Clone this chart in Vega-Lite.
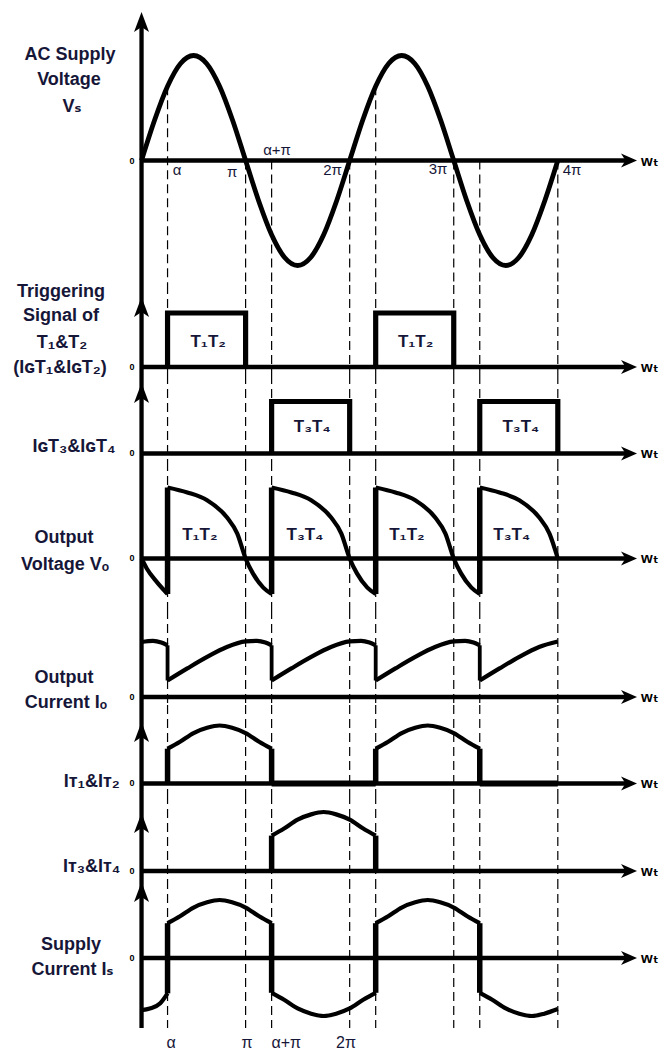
{
"$schema":"https://vega.github.io/schema/vega-lite/v6.json",
"padding":0,
"spacing":0,
"bounds":"flush",
"config":{"view":{"stroke":null},"axis":{"disable":true},"text":{"font":"Liberation Sans, DejaVu Sans","fill":"#161638"},"concat":{"spacing":0}},
"datasets":{"vlines":[{"x":0.25},{"x":1},{"x":1.25},{"x":2},{"x":2.25},{"x":3},{"x":3.25},{"x":4}]},
"vconcat":[
{"width":665,"height":285,"data":{"values":[{}]},"layer":[
{"data":{"values":[{"x":0.25,"y":0.707},{"x":1,"y":0},{"x":1.25,"y":0},{"x":2,"y":0},{"x":2.25,"y":0.707},{"x":3,"y":0},{"x":3.25,"y":0},{"x":4,"y":0}]},"mark":{"type":"rule","strokeDash":[9,5],"strokeWidth":1.2,"color":"#000"},"encoding":{"x":{"field":"x","type":"quantitative","scale":{"domain":[-1.36,5.03],"nice":false,"zero":false}},"y":{"field":"y","type":"quantitative","scale":{"domain":[-1.1857,1.5286],"nice":false,"zero":false}},"y2":{"datum":-1.1857}}},
{"data":{"values":[{"x":0,"y":0},{"x":0.125,"y":0.383},{"x":0.25,"y":0.707},{"x":0.375,"y":0.924},{"x":0.5,"y":1},{"x":0.625,"y":0.924},{"x":0.75,"y":0.707},{"x":0.875,"y":0.383},{"x":1,"y":0},{"x":1.125,"y":-0.383},{"x":1.25,"y":-0.707},{"x":1.375,"y":-0.924},{"x":1.5,"y":-1},{"x":1.625,"y":-0.924},{"x":1.75,"y":-0.707},{"x":1.875,"y":-0.383},{"x":2,"y":0},{"x":2.125,"y":0.383},{"x":2.25,"y":0.707},{"x":2.375,"y":0.924},{"x":2.5,"y":1},{"x":2.625,"y":0.924},{"x":2.75,"y":0.707},{"x":2.875,"y":0.383},{"x":3,"y":0},{"x":3.125,"y":-0.383},{"x":3.25,"y":-0.707},{"x":3.375,"y":-0.924},{"x":3.5,"y":-1},{"x":3.625,"y":-0.924},{"x":3.75,"y":-0.707},{"x":3.875,"y":-0.383},{"x":4,"y":0}]},"mark":{"type":"line","interpolate":"monotone","strokeWidth":4.8,"color":"#000"},"encoding":{"x":{"field":"x","type":"quantitative","scale":{"domain":[-1.36,5.03],"nice":false,"zero":false}},"y":{"field":"y","type":"quantitative","scale":{"domain":[-1.1857,1.5286],"nice":false,"zero":false}}}},
{"mark":{"type":"rule","strokeWidth":4.3,"color":"#000"},"encoding":{"x":{"datum":0,"scale":{"domain":[-1.36,5.03],"nice":false,"zero":false}},"y":{"datum":1.338,"scale":{"domain":[-1.1857,1.5286],"nice":false,"zero":false}},"y2":{"datum":-1.1857}}},
{"mark":{"type":"point","shape":"M0,0 L0.75,2 L0,1.5 L-0.75,2 Z","size":400,"filled":true,"fill":"#000","strokeWidth":0,"opacity":1},"encoding":{"x":{"datum":0,"scale":{"domain":[-1.36,5.03],"nice":false,"zero":false}},"y":{"datum":1.414,"scale":{"domain":[-1.1857,1.5286],"nice":false,"zero":false}}}},
{"mark":{"type":"rule","strokeWidth":4.3,"color":"#000"},"encoding":{"x":{"datum":0,"scale":{"domain":[-1.36,5.03],"nice":false,"zero":false}},"x2":{"datum":4.66},"y":{"datum":0,"scale":{"domain":[-1.1857,1.5286],"nice":false,"zero":false}}}},
{"mark":{"type":"point","shape":"M0,0 L-1.6,-0.7 L-1.15,0 L-1.6,0.7 Z","size":400,"filled":true,"fill":"#000","strokeWidth":0,"opacity":1},"encoding":{"x":{"datum":4.761,"scale":{"domain":[-1.36,5.03],"nice":false,"zero":false}},"y":{"datum":0,"scale":{"domain":[-1.1857,1.5286],"nice":false,"zero":false}}}},
{"mark":{"type":"text","text":"0","fontSize":9,"fontWeight":"bold","fill":"#000","align":"center","baseline":"middle"},"encoding":{"x":{"datum":-0.091,"scale":{"domain":[-1.36,5.03],"nice":false,"zero":false}},"y":{"datum":0,"scale":{"domain":[-1.1857,1.5286],"nice":false,"zero":false}}}},
{"mark":{"type":"text","text":"wₜ","fontSize":15,"fontWeight":"bold","fill":"#000","align":"left","baseline":"middle"},"encoding":{"x":{"datum":4.8,"scale":{"domain":[-1.36,5.03],"nice":false,"zero":false}},"y":{"datum":0,"scale":{"domain":[-1.1857,1.5286],"nice":false,"zero":false}}}},
{"data":{"values":[{"x":0.341,"y":-0.09,"t":"α"},{"x":0.87,"y":-0.114,"t":"π"},{"x":1.302,"y":0.1,"t":"α+π"},{"x":1.835,"y":-0.09,"t":"2π"},{"x":2.849,"y":-0.08,"t":"3π"},{"x":4.137,"y":-0.09,"t":"4π"}]},"mark":{"type":"text","fontSize":15,"align":"center","baseline":"middle"},"encoding":{"x":{"field":"x","type":"quantitative","scale":{"domain":[-1.36,5.03],"nice":false,"zero":false}},"y":{"field":"y","type":"quantitative","scale":{"domain":[-1.1857,1.5286],"nice":false,"zero":false}},"text":{"field":"t"}}},
{"data":{"values":[{"x":-0.687,"y":1.005,"t":"AC Supply"},{"x":-0.697,"y":0.767,"t":"Voltage"},{"x":-0.668,"y":0.51,"t":"Vₛ"}]},"mark":{"type":"text","fontSize":18,"fontWeight":"bold","align":"center","baseline":"middle"},"encoding":{"x":{"field":"x","type":"quantitative","scale":{"domain":[-1.36,5.03],"nice":false,"zero":false}},"y":{"field":"y","type":"quantitative","scale":{"domain":[-1.1857,1.5286],"nice":false,"zero":false}},"text":{"field":"t"}}}
]},
{"width":665,"height":90,"data":{"values":[{}]},"layer":[
{"data":{"name":"vlines"},"mark":{"type":"rule","strokeDash":[9,5],"strokeWidth":1.2,"color":"#000"},"encoding":{"x":{"field":"x","type":"quantitative","scale":{"domain":[-1.36,5.03],"nice":false,"zero":false}}}},
{"mark":{"type":"rule","strokeWidth":4.3,"color":"#000"},"encoding":{"x":{"datum":0,"scale":{"domain":[-1.36,5.03],"nice":false,"zero":false}}}},
{"data":{"values":[{"s":1,"i":0,"x":0.25,"y":0},{"s":1,"i":1,"x":0.25,"y":1},{"s":1,"i":2,"x":1,"y":1},{"s":1,"i":3,"x":1,"y":0},{"s":2,"i":0,"x":2.25,"y":0},{"s":2,"i":1,"x":2.25,"y":1},{"s":2,"i":2,"x":3,"y":1},{"s":2,"i":3,"x":3,"y":0}]},"mark":{"type":"line","strokeWidth":5.2,"strokeJoin":"miter","color":"#000"},"encoding":{"x":{"field":"x","type":"quantitative","scale":{"domain":[-1.36,5.03],"nice":false,"zero":false}},"y":{"field":"y","type":"quantitative","scale":{"domain":[-0.148,1.5185],"nice":false,"zero":false}},"detail":{"field":"s"},"order":{"field":"i"}}},
{"mark":{"type":"point","shape":"M0,0 L0.75,2 L0,1.5 L-0.75,2 Z","size":400,"filled":true,"fill":"#000","strokeWidth":0,"opacity":1},"encoding":{"x":{"datum":0,"scale":{"domain":[-1.36,5.03],"nice":false,"zero":false}},"y":{"datum":1.296,"scale":{"domain":[-0.148,1.5185],"nice":false,"zero":false}}}},
{"mark":{"type":"rule","strokeWidth":4.3,"color":"#000"},"encoding":{"x":{"datum":0,"scale":{"domain":[-1.36,5.03],"nice":false,"zero":false}},"x2":{"datum":4.66},"y":{"datum":0,"scale":{"domain":[-0.148,1.5185],"nice":false,"zero":false}}}},
{"mark":{"type":"point","shape":"M0,0 L-1.6,-0.7 L-1.15,0 L-1.6,0.7 Z","size":400,"filled":true,"fill":"#000","strokeWidth":0,"opacity":1},"encoding":{"x":{"datum":4.761,"scale":{"domain":[-1.36,5.03],"nice":false,"zero":false}},"y":{"datum":0,"scale":{"domain":[-0.148,1.5185],"nice":false,"zero":false}}}},
{"mark":{"type":"text","text":"0","fontSize":9,"fontWeight":"bold","fill":"#000","align":"center","baseline":"middle"},"encoding":{"x":{"datum":-0.091,"scale":{"domain":[-1.36,5.03],"nice":false,"zero":false}},"y":{"datum":0,"scale":{"domain":[-0.148,1.5185],"nice":false,"zero":false}}}},
{"mark":{"type":"text","text":"wₜ","fontSize":15,"fontWeight":"bold","fill":"#000","align":"left","baseline":"middle"},"encoding":{"x":{"datum":4.8,"scale":{"domain":[-1.36,5.03],"nice":false,"zero":false}},"y":{"datum":0,"scale":{"domain":[-0.148,1.5185],"nice":false,"zero":false}}}},
{"data":{"values":[{"x":0.64,"y":0.47,"t":"T₁T₂"},{"x":2.633,"y":0.47,"t":"T₁T₂"}]},"mark":{"type":"text","fontSize":17,"fontWeight":"bold","align":"center","baseline":"middle"},"encoding":{"x":{"field":"x","type":"quantitative","scale":{"domain":[-1.36,5.03],"nice":false,"zero":false}},"y":{"field":"y","type":"quantitative","scale":{"domain":[-0.148,1.5185],"nice":false,"zero":false}},"text":{"field":"t"}}},
{"data":{"values":[{"x":-0.774,"y":1.389,"t":"Triggering"},{"x":-0.774,"y":0.944,"t":"Signal of"},{"x":-0.764,"y":0.444,"t":"T₁&T₂"},{"x":-0.783,"y":-0.0185,"t":"(IɢT₁&IɢT₂)"}]},"mark":{"type":"text","fontSize":18,"fontWeight":"bold","align":"center","baseline":"middle"},"encoding":{"x":{"field":"x","type":"quantitative","scale":{"domain":[-1.36,5.03],"nice":false,"zero":false}},"y":{"field":"y","type":"quantitative","scale":{"domain":[-0.148,1.5185],"nice":false,"zero":false}},"text":{"field":"t"}}}
]},
{"width":665,"height":87,"data":{"values":[{}]},"layer":[
{"data":{"name":"vlines"},"mark":{"type":"rule","strokeDash":[9,5],"strokeWidth":1.2,"color":"#000"},"encoding":{"x":{"field":"x","type":"quantitative","scale":{"domain":[-1.36,5.03],"nice":false,"zero":false}}}},
{"mark":{"type":"rule","strokeWidth":4.3,"color":"#000"},"encoding":{"x":{"datum":0,"scale":{"domain":[-1.36,5.03],"nice":false,"zero":false}}}},
{"data":{"values":[{"s":1,"i":0,"x":1.25,"y":0},{"s":1,"i":1,"x":1.25,"y":1},{"s":1,"i":2,"x":2,"y":1},{"s":1,"i":3,"x":2,"y":0},{"s":2,"i":0,"x":3.25,"y":0},{"s":2,"i":1,"x":3.25,"y":1},{"s":2,"i":2,"x":4,"y":1},{"s":2,"i":3,"x":4,"y":0}]},"mark":{"type":"line","strokeWidth":5.2,"strokeJoin":"miter","color":"#000"},"encoding":{"x":{"field":"x","type":"quantitative","scale":{"domain":[-1.36,5.03],"nice":false,"zero":false}},"y":{"field":"y","type":"quantitative","scale":{"domain":[-0.1635,1.5096],"nice":false,"zero":false}},"detail":{"field":"s"},"order":{"field":"i"}}},
{"mark":{"type":"point","shape":"M0,0 L0.75,2 L0,1.5 L-0.75,2 Z","size":400,"filled":true,"fill":"#000","strokeWidth":0,"opacity":1},"encoding":{"x":{"datum":0,"scale":{"domain":[-1.36,5.03],"nice":false,"zero":false}},"y":{"datum":1.356,"scale":{"domain":[-0.1635,1.5096],"nice":false,"zero":false}}}},
{"mark":{"type":"rule","strokeWidth":4.3,"color":"#000"},"encoding":{"x":{"datum":0,"scale":{"domain":[-1.36,5.03],"nice":false,"zero":false}},"x2":{"datum":4.66},"y":{"datum":0,"scale":{"domain":[-0.1635,1.5096],"nice":false,"zero":false}}}},
{"mark":{"type":"point","shape":"M0,0 L-1.6,-0.7 L-1.15,0 L-1.6,0.7 Z","size":400,"filled":true,"fill":"#000","strokeWidth":0,"opacity":1},"encoding":{"x":{"datum":4.761,"scale":{"domain":[-1.36,5.03],"nice":false,"zero":false}},"y":{"datum":0,"scale":{"domain":[-0.1635,1.5096],"nice":false,"zero":false}}}},
{"mark":{"type":"text","text":"0","fontSize":9,"fontWeight":"bold","fill":"#000","align":"center","baseline":"middle"},"encoding":{"x":{"datum":-0.091,"scale":{"domain":[-1.36,5.03],"nice":false,"zero":false}},"y":{"datum":0,"scale":{"domain":[-0.1635,1.5096],"nice":false,"zero":false}}}},
{"mark":{"type":"text","text":"wₜ","fontSize":15,"fontWeight":"bold","fill":"#000","align":"left","baseline":"middle"},"encoding":{"x":{"datum":4.8,"scale":{"domain":[-1.36,5.03],"nice":false,"zero":false}},"y":{"datum":0,"scale":{"domain":[-0.1635,1.5096],"nice":false,"zero":false}}}},
{"data":{"values":[{"x":1.64,"y":0.515,"t":"T₃T₄"},{"x":3.644,"y":0.515,"t":"T₃T₄"}]},"mark":{"type":"text","fontSize":17,"fontWeight":"bold","align":"center","baseline":"middle"},"encoding":{"x":{"field":"x","type":"quantitative","scale":{"domain":[-1.36,5.03],"nice":false,"zero":false}},"y":{"field":"y","type":"quantitative","scale":{"domain":[-0.1635,1.5096],"nice":false,"zero":false}},"text":{"field":"t"}}},
{"data":{"values":[{"x":-0.649,"y":0.13,"t":"IɢT₃&IɢT₄"}]},"mark":{"type":"text","fontSize":18,"fontWeight":"bold","align":"center","baseline":"middle"},"encoding":{"x":{"field":"x","type":"quantitative","scale":{"domain":[-1.36,5.03],"nice":false,"zero":false}},"y":{"field":"y","type":"quantitative","scale":{"domain":[-0.1635,1.5096],"nice":false,"zero":false}},"text":{"field":"t"}}}
]},
{"width":665,"height":148,"data":{"values":[{}]},"layer":[
{"data":{"name":"vlines"},"mark":{"type":"rule","strokeDash":[9,5],"strokeWidth":1.2,"color":"#000"},"encoding":{"x":{"field":"x","type":"quantitative","scale":{"domain":[-1.36,5.03],"nice":false,"zero":false}}}},
{"mark":{"type":"rule","strokeWidth":4.3,"color":"#000"},"encoding":{"x":{"datum":0,"scale":{"domain":[-1.36,5.03],"nice":false,"zero":false}}}},
{"mark":{"type":"rule","strokeWidth":4.3,"color":"#000"},"encoding":{"x":{"datum":0,"scale":{"domain":[-1.36,5.03],"nice":false,"zero":false}},"x2":{"datum":4.66},"y":{"datum":0,"scale":{"domain":[-0.7254,1.3592],"nice":false,"zero":false}}}},
{"data":{"values":[{"s":0,"x":0,"y":0},{"s":0,"x":0.05,"y":-0.14},{"s":0,"x":0.146,"y":-0.33},{"s":0,"x":0.25,"y":-0.5},
{"s":1,"x":0.25,"y":1},{"s":1,"x":0.44,"y":0.93},{"s":1,"x":0.63,"y":0.82},{"s":1,"x":0.82,"y":0.58},{"s":1,"x":0.92,"y":0.35},{"s":1,"x":1,"y":0},{"s":1,"x":1.07,"y":-0.21},{"s":1,"x":1.17,"y":-0.41},{"s":1,"x":1.25,"y":-0.5},
{"s":2,"x":1.25,"y":1},{"s":2,"x":1.44,"y":0.93},{"s":2,"x":1.63,"y":0.82},{"s":2,"x":1.82,"y":0.58},{"s":2,"x":1.92,"y":0.35},{"s":2,"x":2,"y":0},{"s":2,"x":2.07,"y":-0.21},{"s":2,"x":2.17,"y":-0.41},{"s":2,"x":2.25,"y":-0.5},
{"s":3,"x":2.25,"y":1},{"s":3,"x":2.44,"y":0.93},{"s":3,"x":2.63,"y":0.82},{"s":3,"x":2.82,"y":0.58},{"s":3,"x":2.92,"y":0.35},{"s":3,"x":3,"y":0},{"s":3,"x":3.07,"y":-0.21},{"s":3,"x":3.17,"y":-0.41},{"s":3,"x":3.25,"y":-0.5},
{"s":4,"x":3.25,"y":1},{"s":4,"x":3.44,"y":0.93},{"s":4,"x":3.63,"y":0.82},{"s":4,"x":3.82,"y":0.58},{"s":4,"x":3.92,"y":0.35},{"s":4,"x":4,"y":0}]},"mark":{"type":"line","interpolate":"monotone","strokeWidth":4.2,"color":"#000"},"encoding":{"x":{"field":"x","type":"quantitative","scale":{"domain":[-1.36,5.03],"nice":false,"zero":false}},"y":{"field":"y","type":"quantitative","scale":{"domain":[-0.7254,1.3592],"nice":false,"zero":false}},"detail":{"field":"s"}}},
{"data":{"values":[{"x":0.25,"y":-0.5,"y2":1},{"x":1.25,"y":-0.5,"y2":1},{"x":2.25,"y":-0.5,"y2":1},{"x":3.25,"y":-0.5,"y2":1}]},"mark":{"type":"rule","strokeWidth":5.5,"color":"#000"},"encoding":{"x":{"field":"x","type":"quantitative","scale":{"domain":[-1.36,5.03],"nice":false,"zero":false}},"y":{"field":"y","type":"quantitative","scale":{"domain":[-0.7254,1.3592],"nice":false,"zero":false}},"y2":{"field":"y2"}}},
{"mark":{"type":"point","shape":"M0,0 L-1.6,-0.7 L-1.15,0 L-1.6,0.7 Z","size":400,"filled":true,"fill":"#000","strokeWidth":0,"opacity":1},"encoding":{"x":{"datum":4.761,"scale":{"domain":[-1.36,5.03],"nice":false,"zero":false}},"y":{"datum":0,"scale":{"domain":[-0.7254,1.3592],"nice":false,"zero":false}}}},
{"mark":{"type":"text","text":"0","fontSize":9,"fontWeight":"bold","fill":"#000","align":"center","baseline":"middle"},"encoding":{"x":{"datum":-0.091,"scale":{"domain":[-1.36,5.03],"nice":false,"zero":false}},"y":{"datum":0,"scale":{"domain":[-0.7254,1.3592],"nice":false,"zero":false}}}},
{"mark":{"type":"text","text":"wₜ","fontSize":15,"fontWeight":"bold","fill":"#000","align":"left","baseline":"middle"},"encoding":{"x":{"datum":4.8,"scale":{"domain":[-1.36,5.03],"nice":false,"zero":false}},"y":{"datum":0,"scale":{"domain":[-0.7254,1.3592],"nice":false,"zero":false}}}},
{"data":{"values":[{"x":0.56,"y":0.33,"t":"T₁T₂"},{"x":1.57,"y":0.33,"t":"T₃T₄"},{"x":2.55,"y":0.33,"t":"T₁T₂"},{"x":3.557,"y":0.33,"t":"T₃T₄"}]},"mark":{"type":"text","fontSize":17,"fontWeight":"bold","align":"center","baseline":"middle"},"encoding":{"x":{"field":"x","type":"quantitative","scale":{"domain":[-1.36,5.03],"nice":false,"zero":false}},"y":{"field":"y","type":"quantitative","scale":{"domain":[-0.7254,1.3592],"nice":false,"zero":false}},"text":{"field":"t"}}},
{"data":{"values":[{"x":-0.745,"y":0.284,"t":"Output"},{"x":-0.735,"y":-0.092,"t":"Voltage Vₒ"}]},"mark":{"type":"text","fontSize":18,"fontWeight":"bold","align":"center","baseline":"middle"},"encoding":{"x":{"field":"x","type":"quantitative","scale":{"domain":[-1.36,5.03],"nice":false,"zero":false}},"y":{"field":"y","type":"quantitative","scale":{"domain":[-0.7254,1.3592],"nice":false,"zero":false}},"text":{"field":"t"}}}
]},
{"width":665,"height":95,"data":{"values":[{}]},"layer":[
{"data":{"name":"vlines"},"mark":{"type":"rule","strokeDash":[9,5],"strokeWidth":1.2,"color":"#000"},"encoding":{"x":{"field":"x","type":"quantitative","scale":{"domain":[-1.36,5.03],"nice":false,"zero":false}}}},
{"mark":{"type":"rule","strokeWidth":4.3,"color":"#000"},"encoding":{"x":{"datum":0,"scale":{"domain":[-1.36,5.03],"nice":false,"zero":false}}}},
{"mark":{"type":"rule","strokeWidth":4.3,"color":"#000"},"encoding":{"x":{"datum":0,"scale":{"domain":[-1.36,5.03],"nice":false,"zero":false}},"x2":{"datum":4.66},"y":{"datum":0,"scale":{"domain":[-0.1455,1.5818],"nice":false,"zero":false}}}},
{"data":{"values":[{"s":0,"x":0,"y":1},{"s":0,"x":0.11,"y":1.02},{"s":0,"x":0.19,"y":0.99},{"s":0,"x":0.25,"y":0.94},
{"s":1,"x":0.25,"y":0.3},{"s":1,"x":0.44,"y":0.52},{"s":1,"x":0.63,"y":0.73},{"s":1,"x":0.82,"y":0.91},{"s":1,"x":1,"y":1.01},{"s":1,"x":1.11,"y":1.02},{"s":1,"x":1.19,"y":0.99},{"s":1,"x":1.25,"y":0.94},
{"s":2,"x":1.25,"y":0.3},{"s":2,"x":1.44,"y":0.52},{"s":2,"x":1.63,"y":0.73},{"s":2,"x":1.82,"y":0.91},{"s":2,"x":2,"y":1.01},{"s":2,"x":2.11,"y":1.02},{"s":2,"x":2.19,"y":0.99},{"s":2,"x":2.25,"y":0.94},
{"s":3,"x":2.25,"y":0.3},{"s":3,"x":2.44,"y":0.52},{"s":3,"x":2.63,"y":0.73},{"s":3,"x":2.82,"y":0.91},{"s":3,"x":3,"y":1.01},{"s":3,"x":3.11,"y":1.02},{"s":3,"x":3.19,"y":0.99},{"s":3,"x":3.25,"y":0.94},
{"s":4,"x":3.25,"y":0.3},{"s":4,"x":3.44,"y":0.52},{"s":4,"x":3.63,"y":0.73},{"s":4,"x":3.82,"y":0.91},{"s":4,"x":4,"y":1.01}]},"mark":{"type":"line","interpolate":"monotone","strokeWidth":4.2,"color":"#000"},"encoding":{"x":{"field":"x","type":"quantitative","scale":{"domain":[-1.36,5.03],"nice":false,"zero":false}},"y":{"field":"y","type":"quantitative","scale":{"domain":[-0.1455,1.5818],"nice":false,"zero":false}},"detail":{"field":"s"}}},
{"data":{"values":[{"x":0.25,"y":0.3,"y2":0.94},{"x":1.25,"y":0.3,"y2":0.94},{"x":2.25,"y":0.3,"y2":0.94},{"x":3.25,"y":0.3,"y2":0.94}]},"mark":{"type":"rule","strokeWidth":3.8,"color":"#000"},"encoding":{"x":{"field":"x","type":"quantitative","scale":{"domain":[-1.36,5.03],"nice":false,"zero":false}},"y":{"field":"y","type":"quantitative","scale":{"domain":[-0.1455,1.5818],"nice":false,"zero":false}},"y2":{"field":"y2"}}},
{"mark":{"type":"point","shape":"M0,0 L-1.6,-0.7 L-1.15,0 L-1.6,0.7 Z","size":400,"filled":true,"fill":"#000","strokeWidth":0,"opacity":1},"encoding":{"x":{"datum":4.761,"scale":{"domain":[-1.36,5.03],"nice":false,"zero":false}},"y":{"datum":0,"scale":{"domain":[-0.1455,1.5818],"nice":false,"zero":false}}}},
{"mark":{"type":"text","text":"0","fontSize":9,"fontWeight":"bold","fill":"#000","align":"center","baseline":"middle"},"encoding":{"x":{"datum":-0.091,"scale":{"domain":[-1.36,5.03],"nice":false,"zero":false}},"y":{"datum":0,"scale":{"domain":[-0.1455,1.5818],"nice":false,"zero":false}}}},
{"mark":{"type":"text","text":"wₜ","fontSize":15,"fontWeight":"bold","fill":"#000","align":"left","baseline":"middle"},"encoding":{"x":{"datum":4.8,"scale":{"domain":[-1.36,5.03],"nice":false,"zero":false}},"y":{"datum":0,"scale":{"domain":[-0.1455,1.5818],"nice":false,"zero":false}}}},
{"data":{"values":[{"x":-0.745,"y":0.34,"t":"Output"},{"x":-0.726,"y":-0.115,"t":"Current Iₒ"}]},"mark":{"type":"text","fontSize":18,"fontWeight":"bold","align":"center","baseline":"middle"},"encoding":{"x":{"field":"x","type":"quantitative","scale":{"domain":[-1.36,5.03],"nice":false,"zero":false}},"y":{"field":"y","type":"quantitative","scale":{"domain":[-0.1455,1.5818],"nice":false,"zero":false}},"text":{"field":"t"}}}
]},
{"width":665,"height":90,"data":{"values":[{}]},"layer":[
{"data":{"name":"vlines"},"mark":{"type":"rule","strokeDash":[9,5],"strokeWidth":1.2,"color":"#000"},"encoding":{"x":{"field":"x","type":"quantitative","scale":{"domain":[-1.36,5.03],"nice":false,"zero":false}}}},
{"mark":{"type":"rule","strokeWidth":4.3,"color":"#000"},"encoding":{"x":{"datum":0,"scale":{"domain":[-1.36,5.03],"nice":false,"zero":false}}}},
{"mark":{"type":"rule","strokeWidth":4.3,"color":"#000"},"encoding":{"x":{"datum":0,"scale":{"domain":[-1.36,5.03],"nice":false,"zero":false}},"x2":{"datum":4.66},"y":{"datum":0,"scale":{"domain":[-0.1983,1.3534],"nice":false,"zero":false}}}},
{"data":{"values":[{"x":1.25,"x2":2.25,"y":0},{"x":3.25,"x2":4,"y":0}]},"mark":{"type":"rule","strokeWidth":6,"color":"#000"},"encoding":{"x":{"field":"x","type":"quantitative","scale":{"domain":[-1.36,5.03],"nice":false,"zero":false}},"x2":{"field":"x2"},"y":{"field":"y","type":"quantitative","scale":{"domain":[-0.1983,1.3534],"nice":false,"zero":false}}}},
{"data":{"values":[{"s":1,"x":0.25,"y":0.6},{"s":1,"x":0.37,"y":0.72},{"s":1,"x":0.5,"y":0.87},{"s":1,"x":0.63,"y":0.96},{"s":1,"x":0.75,"y":1},{"s":1,"x":0.87,"y":0.96},{"s":1,"x":1,"y":0.87},{"s":1,"x":1.13,"y":0.72},{"s":1,"x":1.25,"y":0.6},
{"s":2,"x":2.25,"y":0.6},{"s":2,"x":2.37,"y":0.72},{"s":2,"x":2.5,"y":0.87},{"s":2,"x":2.63,"y":0.96},{"s":2,"x":2.75,"y":1},{"s":2,"x":2.87,"y":0.96},{"s":2,"x":3,"y":0.87},{"s":2,"x":3.13,"y":0.72},{"s":2,"x":3.25,"y":0.6}]},"mark":{"type":"line","interpolate":"monotone","strokeWidth":4.2,"color":"#000"},"encoding":{"x":{"field":"x","type":"quantitative","scale":{"domain":[-1.36,5.03],"nice":false,"zero":false}},"y":{"field":"y","type":"quantitative","scale":{"domain":[-0.1983,1.3534],"nice":false,"zero":false}},"detail":{"field":"s"}}},
{"data":{"values":[{"x":0.25,"y":0,"y2":0.6},{"x":1.25,"y":0,"y2":0.6},{"x":2.25,"y":0,"y2":0.6},{"x":3.25,"y":0,"y2":0.6}]},"mark":{"type":"rule","strokeWidth":5.5,"color":"#000"},"encoding":{"x":{"field":"x","type":"quantitative","scale":{"domain":[-1.36,5.03],"nice":false,"zero":false}},"y":{"field":"y","type":"quantitative","scale":{"domain":[-0.1983,1.3534],"nice":false,"zero":false}},"y2":{"field":"y2"}}},
{"mark":{"type":"point","shape":"M0,0 L0.75,2 L0,1.5 L-0.75,2 Z","size":400,"filled":true,"fill":"#000","strokeWidth":0,"opacity":1},"encoding":{"x":{"datum":0,"scale":{"domain":[-1.36,5.03],"nice":false,"zero":false}},"y":{"datum":1.06,"scale":{"domain":[-0.1983,1.3534],"nice":false,"zero":false}}}},
{"mark":{"type":"point","shape":"M0,0 L-1.6,-0.7 L-1.15,0 L-1.6,0.7 Z","size":400,"filled":true,"fill":"#000","strokeWidth":0,"opacity":1},"encoding":{"x":{"datum":4.761,"scale":{"domain":[-1.36,5.03],"nice":false,"zero":false}},"y":{"datum":0,"scale":{"domain":[-0.1983,1.3534],"nice":false,"zero":false}}}},
{"mark":{"type":"text","text":"0","fontSize":9,"fontWeight":"bold","fill":"#000","align":"center","baseline":"middle"},"encoding":{"x":{"datum":-0.091,"scale":{"domain":[-1.36,5.03],"nice":false,"zero":false}},"y":{"datum":0,"scale":{"domain":[-0.1983,1.3534],"nice":false,"zero":false}}}},
{"mark":{"type":"text","text":"wₜ","fontSize":15,"fontWeight":"bold","fill":"#000","align":"left","baseline":"middle"},"encoding":{"x":{"datum":4.8,"scale":{"domain":[-1.36,5.03],"nice":false,"zero":false}},"y":{"datum":0,"scale":{"domain":[-0.1983,1.3534],"nice":false,"zero":false}}}},
{"data":{"values":[{"x":-0.479,"y":0.03,"t":"Iᴛ₁&Iᴛ₂"}]},"mark":{"type":"text","fontSize":18,"fontWeight":"bold","align":"center","baseline":"middle"},"encoding":{"x":{"field":"x","type":"quantitative","scale":{"domain":[-1.36,5.03],"nice":false,"zero":false}},"y":{"field":"y","type":"quantitative","scale":{"domain":[-0.1983,1.3534],"nice":false,"zero":false}},"text":{"field":"t"}}}
]},
{"width":665,"height":85,"data":{"values":[{}]},"layer":[
{"data":{"name":"vlines"},"mark":{"type":"rule","strokeDash":[9,5],"strokeWidth":1.2,"color":"#000"},"encoding":{"x":{"field":"x","type":"quantitative","scale":{"domain":[-1.36,5.03],"nice":false,"zero":false}}}},
{"mark":{"type":"rule","strokeWidth":4.3,"color":"#000"},"encoding":{"x":{"datum":0,"scale":{"domain":[-1.36,5.03],"nice":false,"zero":false}}}},
{"mark":{"type":"rule","strokeWidth":4.3,"color":"#000"},"encoding":{"x":{"datum":0,"scale":{"domain":[-1.36,5.03],"nice":false,"zero":false}},"x2":{"datum":4.66},"y":{"datum":0,"scale":{"domain":[-0.1525,1.2881],"nice":false,"zero":false}}}},
{"data":{"values":[{"x":1.25,"y":0.6},{"x":1.37,"y":0.72},{"x":1.5,"y":0.87},{"x":1.63,"y":0.96},{"x":1.75,"y":1},{"x":1.87,"y":0.96},{"x":2,"y":0.87},{"x":2.13,"y":0.72},{"x":2.25,"y":0.6}]},"mark":{"type":"line","interpolate":"monotone","strokeWidth":4.2,"color":"#000"},"encoding":{"x":{"field":"x","type":"quantitative","scale":{"domain":[-1.36,5.03],"nice":false,"zero":false}},"y":{"field":"y","type":"quantitative","scale":{"domain":[-0.1525,1.2881],"nice":false,"zero":false}}}},
{"data":{"values":[{"x":1.25,"y":0,"y2":0.6},{"x":2.25,"y":0,"y2":0.6}]},"mark":{"type":"rule","strokeWidth":5.5,"color":"#000"},"encoding":{"x":{"field":"x","type":"quantitative","scale":{"domain":[-1.36,5.03],"nice":false,"zero":false}},"y":{"field":"y","type":"quantitative","scale":{"domain":[-0.1525,1.2881],"nice":false,"zero":false}},"y2":{"field":"y2"}}},
{"mark":{"type":"point","shape":"M0,0 L0.75,2 L0,1.5 L-0.75,2 Z","size":400,"filled":true,"fill":"#000","strokeWidth":0,"opacity":1},"encoding":{"x":{"datum":0,"scale":{"domain":[-1.36,5.03],"nice":false,"zero":false}},"y":{"datum":0.983,"scale":{"domain":[-0.1525,1.2881],"nice":false,"zero":false}}}},
{"mark":{"type":"point","shape":"M0,0 L-1.6,-0.7 L-1.15,0 L-1.6,0.7 Z","size":400,"filled":true,"fill":"#000","strokeWidth":0,"opacity":1},"encoding":{"x":{"datum":4.761,"scale":{"domain":[-1.36,5.03],"nice":false,"zero":false}},"y":{"datum":0,"scale":{"domain":[-0.1525,1.2881],"nice":false,"zero":false}}}},
{"mark":{"type":"text","text":"0","fontSize":9,"fontWeight":"bold","fill":"#000","align":"center","baseline":"middle"},"encoding":{"x":{"datum":-0.091,"scale":{"domain":[-1.36,5.03],"nice":false,"zero":false}},"y":{"datum":0,"scale":{"domain":[-0.1525,1.2881],"nice":false,"zero":false}}}},
{"mark":{"type":"text","text":"wₜ","fontSize":15,"fontWeight":"bold","fill":"#000","align":"left","baseline":"middle"},"encoding":{"x":{"datum":4.8,"scale":{"domain":[-1.36,5.03],"nice":false,"zero":false}},"y":{"datum":0,"scale":{"domain":[-0.1525,1.2881],"nice":false,"zero":false}}}},
{"data":{"values":[{"x":-0.479,"y":0.073,"t":"Iᴛ₃&Iᴛ₄"}]},"mark":{"type":"text","fontSize":18,"fontWeight":"bold","align":"center","baseline":"middle"},"encoding":{"x":{"field":"x","type":"quantitative","scale":{"domain":[-1.36,5.03],"nice":false,"zero":false}},"y":{"field":"y","type":"quantitative","scale":{"domain":[-0.1525,1.2881],"nice":false,"zero":false}},"text":{"field":"t"}}}
]},
{"width":665,"height":174,"data":{"values":[{}]},"layer":[
{"data":{"name":"vlines"},"mark":{"type":"rule","strokeDash":[9,5],"strokeWidth":1.2,"color":"#000"},"encoding":{"x":{"field":"x","type":"quantitative","scale":{"domain":[-1.36,5.03],"nice":false,"zero":false}},"y":{"datum":1.3448,"scale":{"domain":[-1.6552,1.3448],"nice":false,"zero":false}},"y2":{"datum":-1.207}}},
{"mark":{"type":"rule","strokeWidth":4.3,"color":"#000"},"encoding":{"x":{"datum":0,"scale":{"domain":[-1.36,5.03],"nice":false,"zero":false}},"y":{"datum":1.3448,"scale":{"domain":[-1.6552,1.3448],"nice":false,"zero":false}},"y2":{"datum":-1.207}}},
{"mark":{"type":"rule","strokeWidth":4.3,"color":"#000"},"encoding":{"x":{"datum":0,"scale":{"domain":[-1.36,5.03],"nice":false,"zero":false}},"x2":{"datum":4.66},"y":{"datum":0,"scale":{"domain":[-1.6552,1.3448],"nice":false,"zero":false}}}},
{"data":{"values":[{"s":0,"x":0,"y":-0.9},{"s":0,"x":0.08,"y":-0.87},{"s":0,"x":0.18,"y":-0.78},{"s":0,"x":0.25,"y":-0.61},
{"s":1,"x":0.25,"y":0.6},{"s":1,"x":0.37,"y":0.72},{"s":1,"x":0.5,"y":0.87},{"s":1,"x":0.63,"y":0.96},{"s":1,"x":0.75,"y":1},{"s":1,"x":0.87,"y":0.96},{"s":1,"x":1,"y":0.87},{"s":1,"x":1.13,"y":0.72},{"s":1,"x":1.25,"y":0.6},
{"s":2,"x":1.25,"y":-0.6},{"s":2,"x":1.37,"y":-0.72},{"s":2,"x":1.5,"y":-0.87},{"s":2,"x":1.63,"y":-0.96},{"s":2,"x":1.75,"y":-1},{"s":2,"x":1.87,"y":-0.96},{"s":2,"x":2,"y":-0.87},{"s":2,"x":2.13,"y":-0.72},{"s":2,"x":2.25,"y":-0.6},
{"s":3,"x":2.25,"y":0.6},{"s":3,"x":2.37,"y":0.72},{"s":3,"x":2.5,"y":0.87},{"s":3,"x":2.63,"y":0.96},{"s":3,"x":2.75,"y":1},{"s":3,"x":2.87,"y":0.96},{"s":3,"x":3,"y":0.87},{"s":3,"x":3.13,"y":0.72},{"s":3,"x":3.25,"y":0.6},
{"s":4,"x":3.25,"y":-0.6},{"s":4,"x":3.37,"y":-0.72},{"s":4,"x":3.5,"y":-0.87},{"s":4,"x":3.63,"y":-0.96},{"s":4,"x":3.75,"y":-1},{"s":4,"x":3.87,"y":-0.96},{"s":4,"x":4,"y":-0.88}]},"mark":{"type":"line","interpolate":"monotone","strokeWidth":4.2,"color":"#000"},"encoding":{"x":{"field":"x","type":"quantitative","scale":{"domain":[-1.36,5.03],"nice":false,"zero":false}},"y":{"field":"y","type":"quantitative","scale":{"domain":[-1.6552,1.3448],"nice":false,"zero":false}},"detail":{"field":"s"}}},
{"data":{"values":[{"x":0.25,"y":-0.61,"y2":0.6},{"x":1.25,"y":-0.6,"y2":0.6},{"x":2.25,"y":-0.6,"y2":0.6},{"x":3.25,"y":-0.6,"y2":0.6}]},"mark":{"type":"rule","strokeWidth":5.5,"color":"#000"},"encoding":{"x":{"field":"x","type":"quantitative","scale":{"domain":[-1.36,5.03],"nice":false,"zero":false}},"y":{"field":"y","type":"quantitative","scale":{"domain":[-1.6552,1.3448],"nice":false,"zero":false}},"y2":{"field":"y2"}}},
{"mark":{"type":"point","shape":"M0,0 L0.75,2 L0,1.5 L-0.75,2 Z","size":400,"filled":true,"fill":"#000","strokeWidth":0,"opacity":1},"encoding":{"x":{"datum":0,"scale":{"domain":[-1.36,5.03],"nice":false,"zero":false}},"y":{"datum":1.31,"scale":{"domain":[-1.6552,1.3448],"nice":false,"zero":false}}}},
{"mark":{"type":"point","shape":"M0,0 L-1.6,-0.7 L-1.15,0 L-1.6,0.7 Z","size":400,"filled":true,"fill":"#000","strokeWidth":0,"opacity":1},"encoding":{"x":{"datum":4.761,"scale":{"domain":[-1.36,5.03],"nice":false,"zero":false}},"y":{"datum":0,"scale":{"domain":[-1.6552,1.3448],"nice":false,"zero":false}}}},
{"mark":{"type":"text","text":"0","fontSize":9,"fontWeight":"bold","fill":"#000","align":"center","baseline":"middle"},"encoding":{"x":{"datum":-0.091,"scale":{"domain":[-1.36,5.03],"nice":false,"zero":false}},"y":{"datum":0,"scale":{"domain":[-1.6552,1.3448],"nice":false,"zero":false}}}},
{"mark":{"type":"text","text":"wₜ","fontSize":15,"fontWeight":"bold","fill":"#000","align":"left","baseline":"middle"},"encoding":{"x":{"datum":4.8,"scale":{"domain":[-1.36,5.03],"nice":false,"zero":false}},"y":{"datum":0,"scale":{"domain":[-1.6552,1.3448],"nice":false,"zero":false}}}},
{"data":{"values":[{"x":0.284,"y":-1.466,"t":"α"},{"x":1.013,"y":-1.466,"t":"π"},{"x":1.39,"y":-1.466,"t":"α+π"},{"x":1.965,"y":-1.466,"t":"2π"}]},"mark":{"type":"text","fontSize":16,"align":"center","baseline":"middle"},"encoding":{"x":{"field":"x","type":"quantitative","scale":{"domain":[-1.36,5.03],"nice":false,"zero":false}},"y":{"field":"y","type":"quantitative","scale":{"domain":[-1.6552,1.3448],"nice":false,"zero":false}},"text":{"field":"t"}}},
{"data":{"values":[{"x":-0.677,"y":0.224,"t":"Supply"},{"x":-0.663,"y":-0.207,"t":"Current Iₛ"}]},"mark":{"type":"text","fontSize":18,"fontWeight":"bold","align":"center","baseline":"middle"},"encoding":{"x":{"field":"x","type":"quantitative","scale":{"domain":[-1.36,5.03],"nice":false,"zero":false}},"y":{"field":"y","type":"quantitative","scale":{"domain":[-1.6552,1.3448],"nice":false,"zero":false}},"text":{"field":"t"}}}
]}
]
}
